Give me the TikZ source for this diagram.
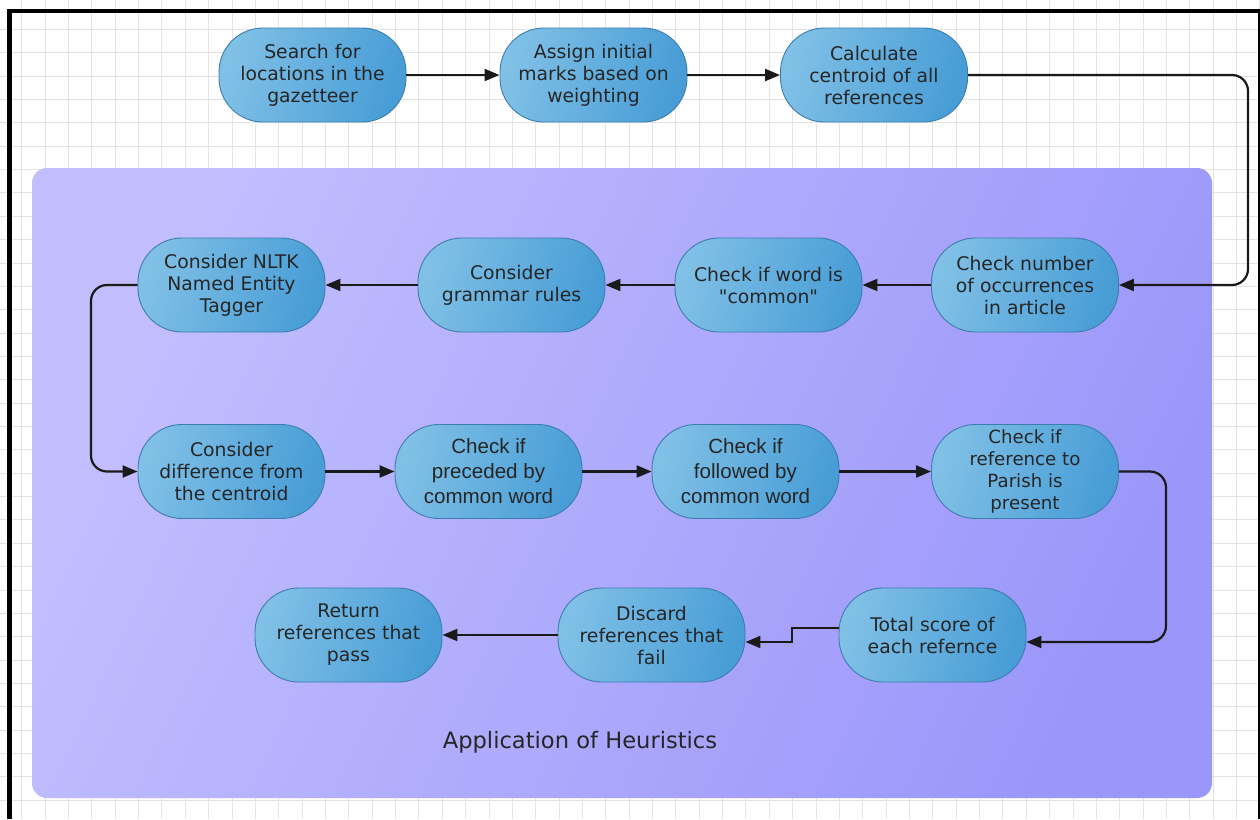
\documentclass[tikz,border=0pt]{standalone}
\usepackage{fontspec}
\setmainfont{DejaVu Sans}[Ligatures=TeXOff]
\newfontfamily\arialfont{Liberation Sans}
\usetikzlibrary{arrows.meta,calc}
\definecolor{gridc}{HTML}{E4E4E4}
\definecolor{boxA}{HTML}{C2BEFE}
\definecolor{boxB}{HTML}{9B97FA}
\definecolor{nodeA}{HTML}{80C0E6}
\definecolor{nodeB}{HTML}{489DD6}
\definecolor{nodeD}{HTML}{3C7DAD}
\definecolor{txt}{HTML}{262626}
\definecolor{linec}{HTML}{1A1A1A}
\begin{document}
\begin{tikzpicture}[x=1pt,y=-1pt,
  proc/.style={draw=nodeD, line width=0.9pt, rounded corners=44pt,
    minimum width=187pt, minimum height=94pt, inner sep=1pt,
    left color=nodeA, right color=nodeB, shading angle=75,
    align=center, text=txt, font=\fontsize{18.8}{22}\selectfont},
  procb/.style={proc, font=\arialfont\fontsize{20.6}{25}\selectfont},
  procs/.style={proc, font=\fontsize{18.2}{21.7}\selectfont},
  arr/.style={draw=linec, line width=2.2pt, -{Triangle[length=15pt,width=12pt]}},
]
\useasboundingbox (0,0) rectangle (1260,819);
\fill[white] (0,0) rectangle (1260,819);
% grid
\foreach \i in {0,...,53} {
  \draw[gridc, line width=0.8pt] ({21.7+\i*23.36},0) -- ({21.7+\i*23.36},819);
}
\foreach \j in {0,...,34} {
  \draw[gridc, line width=0.8pt] (0,{29.3+\j*23.36}) -- (1260,{29.3+\j*23.36});
}
% frame
\draw[black, line width=5pt] (9.2,9.3) -- (9.2,819);
\draw[black, line width=4pt] (6.7,11.3) -- (1260,11.3);
\draw[black, line width=2.5pt] (1258.8,9.3) -- (1258.8,819);
% container
\shade[rounded corners=15pt, left color=boxA, right color=boxB, shading angle=65]
  (32,168) rectangle (1212,798);
\node[font=\fontsize{22.6}{26}\selectfont, text=txt] (label) at (580,742) {Application of Heuristics};

% row 0
\node[proc] (search) at (312.5,75) {Search for\\locations in the\\gazetteer};
\node[proc] (assign) at (593.5,75) {Assign initial\\marks based on\\weighting};
\node[proc] (calc) at (874,75) {Calculate\\centroid of all\\references};
% row 1
\node[proc] (count) at (1025,285) {Check number\\of occurrences\\in article};
\node[proc] (common) at (768.5,285) {Check if word is\\"common"};
\node[proc] (grammar) at (511.5,285) {Consider\\grammar rules};
\node[proc] (nltk) at (231.5,285) {Consider NLTK\\Named Entity\\Tagger};
% row 2
\node[proc] (diff) at (231.5,471.5) {Consider\\difference from\\the centroid};
\node[procb] (prec) at (488.5,471.5) {Check if\\preceded by\\common word};
\node[procb] (foll) at (745.5,471.5) {Check if\\followed by\\common word};
\node[procs] (parish) at (1025,471.5) {Check if\\reference to\\Parish is\\present};
% row 3
\node[proc] (total) at (932.5,635) {Total score of\\each refernce};
\node[proc] (discard) at (651.5,635) {Discard\\references that\\fail};
\node[proc] (return) at (348.5,635) {Return\\references that\\pass};

\coordinate (r1) at (1248,0);
\coordinate (l1) at (91,0);
\coordinate (r2) at (1166,0);
\coordinate (s1) at (792,0);

\draw[arr] (search.east) -- (assign.west);
\draw[arr] (assign.east) -- (calc.west);
\draw[arr, rounded corners=16pt] (calc.east) -- (calc.east -| r1) |- (count.east);
\draw[arr] (count.west) -- (common.east);
\draw[arr] (common.west) -- (grammar.east);
\draw[arr] (grammar.west) -- (nltk.east);
\draw[arr, rounded corners=16pt] (nltk.west) -- (nltk.west -| l1) |- (diff.west);
\draw[arr] (diff.east) -- (prec.west);
\draw[arr] (prec.east) -- (foll.west);
\draw[arr] (foll.east) -- (parish.west);
\draw[arr, rounded corners=16pt] (parish.east) -- (parish.east -| r2) |- ([yshift=-7pt]total.east);
\draw[arr] ([yshift=7pt]total.west) -- ([yshift=7pt]total.west -| s1) |- ([yshift=-7pt]discard.east);
\draw[arr] (discard.west) -- (return.east);
\end{tikzpicture}
\end{document}
